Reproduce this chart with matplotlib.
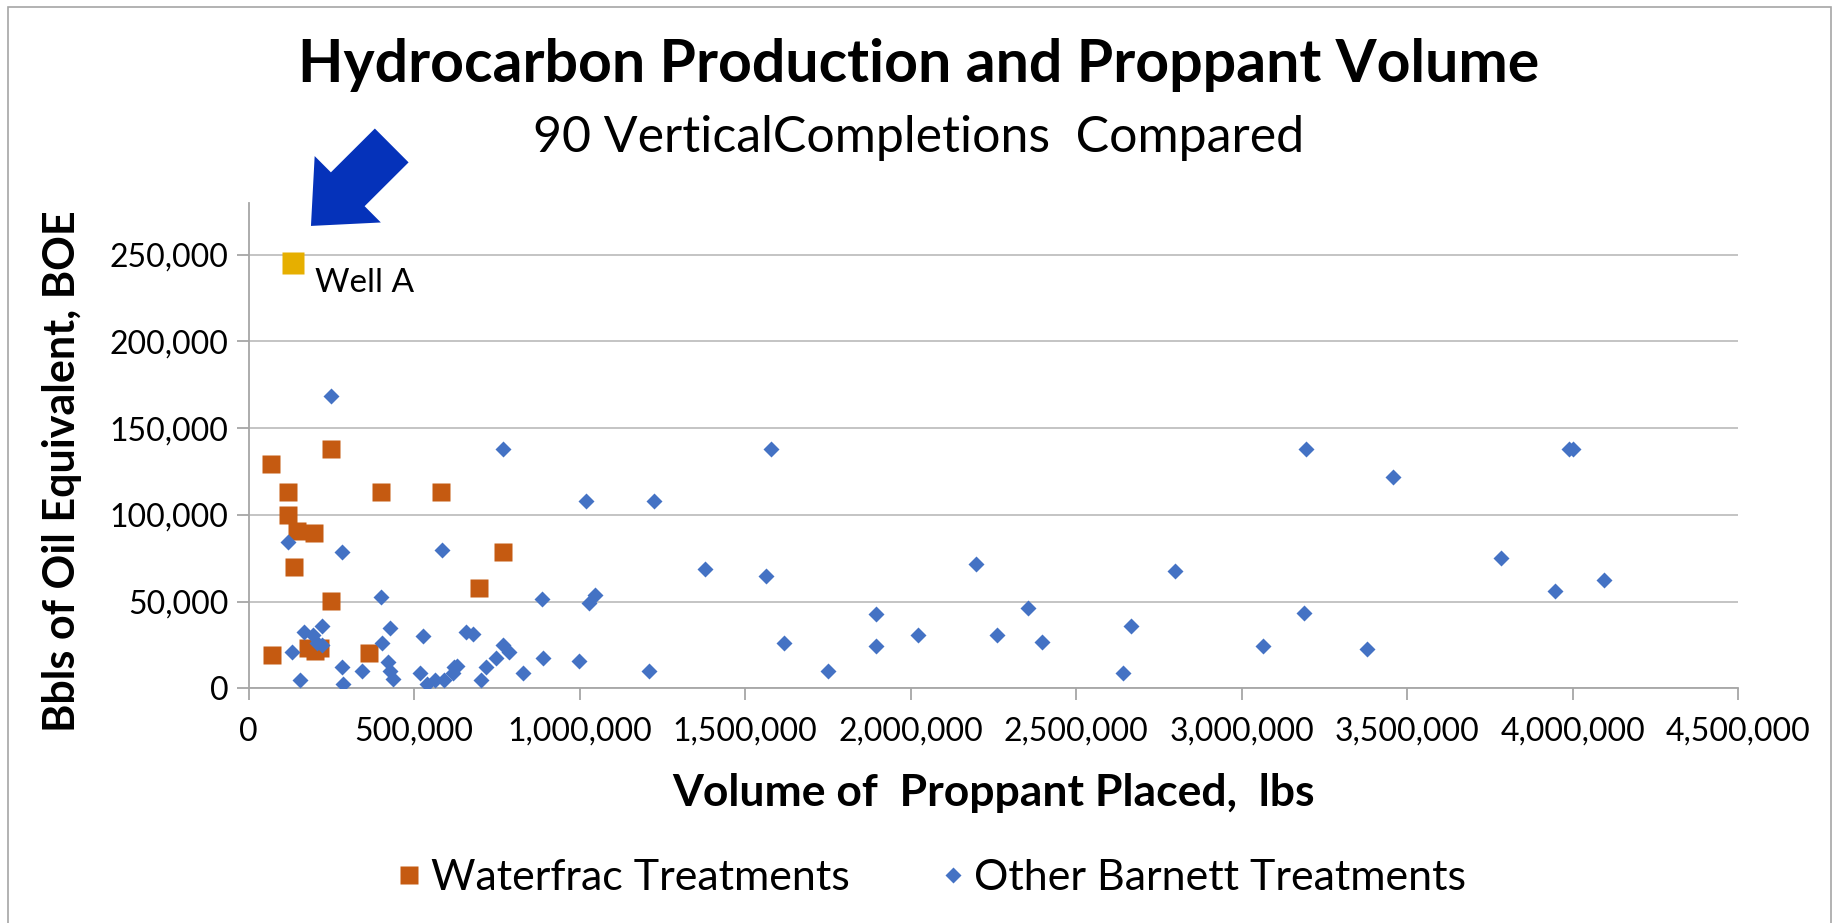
import numpy as np
import matplotlib
matplotlib.use('Agg')
import matplotlib.pyplot as plt
from matplotlib.ticker import FuncFormatter
from matplotlib.patches import Rectangle

plt.rcParams['font.family'] = ['Lato', 'DejaVu Sans']

# waterfrac treatments (lbs proppant, BOE)
water_x = [68000, 118000, 120000, 145000, 198000, 138000, 248000, 248000,
           401000, 580000, 767000, 695000, 70000, 180000, 200000, 215000, 364000]
water_y = [129400, 113300, 100000, 90800, 89400, 70200, 137900, 50200,
           113100, 113100, 78500, 58000, 19200, 23500, 21500, 23000, 20600]

# other barnett treatments
other_x = [249000, 768000, 119000, 282000, 584000, 1018000, 1223000, 1378000,
           399000, 887000, 1028000, 1045000, 220000, 168000, 195000, 205000,
           222000, 130000, 156000, 427000, 402000, 283000, 286000, 343000,
           422000, 427000, 436000, 526000, 517000, 538000, 563000, 591000,
           616000, 620000, 628000, 656000, 678000, 703000, 717000, 748000,
           768000, 785000, 830000, 890000, 997000, 1209000, 1579000, 1564000,
           1617000, 1749000, 1895000, 1895000, 2022000, 2198000, 2260000,
           2355000, 2398000, 2642000, 2665000, 2798000, 3065000, 3195000,
           3187000, 3379000, 3458000, 3784000, 3946000, 3989000, 4000000,
           4094000]
other_y = [168600, 138100, 84600, 78300, 79800, 107900, 107900, 68700,
           52700, 51500, 49400, 53700, 36200, 32300, 30800, 26000,
           25000, 20800, 4600, 34600, 26200, 12500, 2300, 10200,
           15000, 10000, 5200, 30000, 9000, 2300, 4600, 4600,
           8700, 12500, 13100, 32300, 31200, 4600, 12500, 17500,
           25000, 20800, 8700, 17500, 15800, 10200, 137700, 64800,
           26200, 10200, 42700, 24600, 30600, 71500, 30600,
           46500, 26700, 9000, 36200, 67700, 24600, 137700,
           43300, 22500, 122100, 75400, 56200, 137700, 137700,
           62500]

# the highlighted well
well_a_x = [133000]
well_a_y = [245000]

x_ticks = np.arange(0, 4500001, 500000)
y_ticks = np.arange(0, 250001, 50000)

fig = plt.figure(figsize=(18.37, 9.23), dpi=100)
ax = fig.add_axes([0.1354, 0.2543, 0.8108, 0.5261])

l1, = ax.plot(water_x, water_y, 's', color='#C55A11', ms=13.5, mec='none', zorder=3)
l2, = ax.plot(other_x, other_y, 'D', color='#4472C4', ms=8.5, mec='none', zorder=4)
ax.plot(well_a_x, well_a_y, 's', color='#E6AF00', ms=16, mec='none', zorder=4)
ax.text(200000, 228700, 'Well A', fontsize=24, va='baseline')

# big arrow pointing at well A
ax.annotate('', xy=(188000, 266600), xytext=(432000, 313000),
            arrowprops=dict(arrowstyle='simple,head_length=3.74,head_width=6.75,tail_width=3.44',
                            mutation_scale=10, fc='#0532BA', ec='none',
                            shrinkA=0, shrinkB=0),
            annotation_clip=False)

ax.set_xlim(0, 4500000)
ax.set_ylim(0, 280000)
ax.set_xticks(x_ticks)
ax.set_yticks(y_ticks)
fmt = FuncFormatter(lambda v, p: f'{v:,.0f}')
ax.xaxis.set_major_formatter(fmt)
ax.yaxis.set_major_formatter(fmt)

ax.grid(axis='y', color='#BFBFBF', lw=1.3)
ax.set_axisbelow(True)
for s in ['top', 'right']:
    ax.spines[s].set_visible(False)
for s in ['left', 'bottom']:
    ax.spines[s].set_color('#A6A6A6')
    ax.spines[s].set_linewidth(1.3)
ax.tick_params(axis='y', length=8.5, width=1.3, color='#A6A6A6', pad=6, labelsize=23)
ax.tick_params(axis='x', length=8.5, width=1.3, color='#A6A6A6', pad=12, labelsize=23)

fig.text(0.5, 0.9115, 'Hydrocarbon Production and Proppant Volume',
         fontsize=42.5, fontweight='bold', ha='center', va='baseline')
fig.text(0.5, 0.8356, '90 VerticalCompletions  Compared',
         fontsize=36, ha='center', va='baseline')
fig.text(0.541, 0.1268, 'Volume of  Proppant Placed,  lbs',
         fontsize=32, fontweight='bold', ha='center', va='baseline')
fig.text(0.034, 0.4897, 'Bbls of Oil Equivalent, BOE', rotation=90,
         fontsize=31, fontweight='bold', ha='center', va='center')

fig.legend([l1, l2], ['Waterfrac Treatments', 'Other Barnett Treatments'],
           loc='center', bbox_to_anchor=(0.507, 0.0488), ncol=2, frameon=False,
           fontsize=31, handlelength=0.6, handletextpad=0.2, columnspacing=2.1)

# chart area border
fig.add_artist(Rectangle((8 / 1837, -0.1), 1823 / 1837, 1.1 - 7 / 923,
                         transform=fig.transFigure, fill=False,
                         ec='#A6A6A6', lw=1.2))

fig.savefig('out.png', dpi=100)
